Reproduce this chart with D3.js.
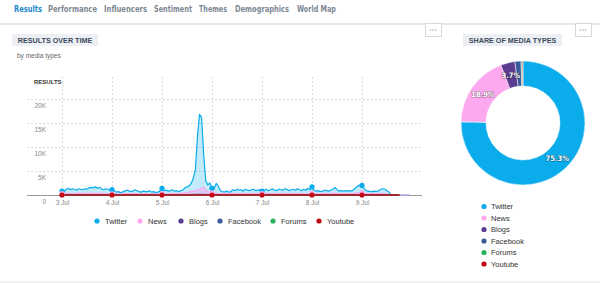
<!DOCTYPE html>
<html>
<head>
<meta charset="utf-8">
<script src="https://cdn.jsdelivr.net/npm/d3@7"></script>
<style>
  body { margin: 0; background: #fff; }
  svg { display: block; font-family: "Liberation Sans", Arial, sans-serif; }
  .tab { font-family: "Liberation Sans Narrow", "DejaVu Sans Condensed", sans-serif; font-weight: bold; font-size: 9px; }
  .grid line { stroke: #dcdcdc; stroke-dasharray: 2,2; }
</style>
</head>
<body>
<div id="chart"></div>
<script>
// tabs along the top
var TABS = ["Results", "Performance", "Influencers", "Sentiment", "Themes", "Demographics", "World Map"];

var SERIES = ["Twitter", "News", "Blogs", "Facebook", "Forums", "Youtube"];
var COLORS = ["#0aacec", "#fda8ef", "#5a3d8e", "#3b5a9a", "#2bb35c", "#c20a12"];

// hourly results, 3 Jul 00:00 .. 9 Jul 23:00
var twitter = [
  800, 700, 1200, 1400, 1100, 1300, 1200, 1000, 1300, 1200, 1100, 1300, 1200, 1500, 1600, 1500, 1700, 1400, 1600, 1300, 1100, 1300, 1200, 1000,
  1100, 900, 600, 700, 500, 600, 800, 1000, 900, 700, 800, 1100, 900, 700, 600, 800, 700, 700, 900, 600, 700, 500, 600, 800,
  1400, 900, 1000, 800, 900, 1100, 800, 900, 700, 900, 1000, 1500, 1700, 1900, 2400, 3500, 5200, 12000, 16800, 16200, 8500, 3000, 2100, 2500,
  1400, 1300, 2400, 1900, 900, 700, 600, 800, 600, 700, 1100, 900, 1200, 1000, 1100, 800, 1200, 1000, 900, 1100, 1200, 900, 1000, 1100,
  800, 1000, 1200, 900, 1100, 1300, 1000, 900, 1200, 1100, 1000, 1300, 1200, 900, 1100, 1200, 1000, 1300, 1100, 900, 1200, 1000, 1400, 1100,
  1700, 1000, 800, 900, 700, 800, 1000, 900, 800, 1000, 1200, 1600, 1100, 800, 900, 800, 900, 800, 900, 800, 1100, 1500, 1900, 2100,
  2000, 1400, 900, 800, 700, 700, 800, 700, 900, 1200, 1300, 1200, 900, 600, 0, 0, 0, 0, 0, 0, 0, 0, 0, 0
];
var news = [
  300, 250, 300, 350, 300, 250, 300, 350, 400, 300, 350, 300, 350, 400, 350, 300, 350, 400, 300, 350, 300, 250, 300, 300,
  250, 200, 200, 250, 200, 250, 300, 250, 300, 250, 300, 250, 300, 250, 200, 250, 300, 250, 200, 250, 300, 250, 200, 250,
  300, 250, 200, 250, 300, 250, 300, 250, 300, 350, 400, 450, 500, 600, 700, 800, 900, 1000, 1200, 1400, 1600, 1000, 700, 500,
  400, 350, 300, 300, 250, 300, 350, 300, 250, 300, 350, 300, 250, 300, 350, 300, 250, 300, 350, 300, 250, 300, 350, 300,
  300, 250, 300, 350, 300, 250, 300, 350, 300, 250, 300, 350, 300, 250, 300, 350, 300, 250, 300, 350, 300, 250, 300, 300,
  350, 300, 250, 300, 250, 300, 350, 300, 250, 300, 350, 400, 350, 300, 250, 300, 250, 300, 350, 300, 350, 400, 450, 400,
  400, 350, 300, 250, 300, 250, 300, 250, 300, 350, 300, 250, 200, 150, 0, 0, 0, 0, 0, 0, 0, 0, 0, 0
];
// smaller series, every 6 hours
var blogs    = [60, 50, 70, 80, 40, 50, 60, 70, 60, 50, 90, 150, 70, 60, 80, 60, 50, 70, 60, 50, 60, 80, 70, 60, 70, 50, 60, 0];
var facebook = [20, 30, 20, 30, 20, 20, 30, 20, 20, 30, 40, 60, 30, 20, 30, 20, 20, 30, 20, 30, 30, 20, 30, 20, 30, 20, 20, 0];
var forums   = [5, 0, 5, 5, 0, 5, 5, 0, 5, 0, 5, 10, 5, 0, 5, 5, 0, 5, 0, 5, 5, 0, 5, 5, 0, 5, 0, 0];
var youtube  = [0, 0, 0, 0, 0, 0, 0, 0, 0, 0, 0, 0, 0, 0, 0, 0, 0, 0, 0, 0, 0, 0, 0, 0, 0, 0, 0, 0];

var Y_TICKS = [0, 5000, 10000, 15000, 20000];
var Y_LABELS = ["0", "5K", "10K", "15K", "20K"];

// share of media types (%)
var SHARE = [75.3, 18.9, 3.7, 1.6, 0.3, 0.2];

var W = 600, H = 283;
var svg = d3.select("#chart").append("svg").attr("width", W).attr("height", H);

// ---- header tabs
var tabX = [14, 48, 104, 154, 199, 235, 297];
var tabW = [28, 49, 43, 38, 28, 54, 39];
svg.selectAll("text.tab").data(TABS).enter().append("text")
  .attr("class", "tab")
  .attr("x", function(d, i) { return tabX[i]; })
  .attr("y", 11.5)
  .attr("textLength", function(d, i) { return tabW[i]; })
  .attr("lengthAdjust", "spacingAndGlyphs")
  .attr("fill", function(d, i) { return i == 0 ? "#1a88cf" : "#7d8893"; })
  .text(function(d) { return d; });

svg.append("rect").attr("x", 0).attr("y", 23).attr("width", W).attr("height", 2).attr("fill", "#e8e8e8");
svg.append("rect").attr("x", 0).attr("y", 281).attr("width", W).attr("height", 2).attr("fill", "#f1f1f1");

// "..." menu boxes
[425, 575].forEach(function(bx) {
  svg.append("rect").attr("x", bx + 0.5).attr("y", 23.5).attr("width", 16).attr("height", 13)
    .attr("fill", "#fff").attr("stroke", "#d8d8d8");
  [0, 1, 2].forEach(function(k) {
    svg.append("circle").attr("cx", bx + 5.5 + k * 2.5).attr("cy", 30).attr("r", 0.8).attr("fill", "#aaa");
  });
});

// panel titles
function panelTitle(x, w, label) {
  svg.append("rect").attr("x", x).attr("y", 34).attr("width", w).attr("height", 12).attr("fill", "#eceff3");
  svg.append("text").attr("x", x + w / 2).attr("y", 43).attr("text-anchor", "middle")
    .attr("font-size", 7.2).attr("font-weight", "bold").attr("fill", "#3d4a5c").text(label);
}
panelTitle(12, 86, "RESULTS OVER TIME");
panelTitle(463, 99, "SHARE OF MEDIA TYPES");

svg.append("text").attr("x", 17).attr("y", 58).attr("font-size", 6.5).attr("fill", "#666").text("by media types");

// ---- time series
var t0 = Date.UTC(2015, 6, 3);
var HOUR = 3600 * 1000;
var x = d3.scaleUtc()
  .domain([new Date(Date.UTC(2015, 6, 2, 7, 12)), new Date(Date.UTC(2015, 6, 10, 4, 48))])
  .range([27, 422]);
var y = d3.scaleLinear().domain([0, 25000]).range([195, 75]);

function toPoints(arr, step) {
  return arr.map(function(v, i) { return { t: new Date(t0 + i * step * HOUR), v: v }; });
}
var seriesData = [toPoints(twitter, 1), toPoints(news, 1), toPoints(blogs, 6),
                  toPoints(facebook, 6), toPoints(forums, 6), toPoints(youtube, 6)];

var days = d3.utcDay.range(new Date(t0), new Date(Date.UTC(2015, 6, 10)));

// vertical grid + x labels
var xAxis = svg.append("g").attr("class", "grid").attr("transform", "translate(0,195)")
  .call(d3.axisBottom(x).tickValues(days).tickSize(-119).tickFormat(d3.utcFormat("%-d %b")));
xAxis.select(".domain").remove();
xAxis.selectAll("text").attr("font-size", 6.5).attr("fill", "#888").attr("dy", "0.35em").attr("y", 8)
  .attr("font-family", "Liberation Sans, Arial, sans-serif");

// horizontal grid
var yAxis = svg.append("g").attr("class", "grid").attr("transform", "translate(27,0)")
  .call(d3.axisLeft(y).tickValues(Y_TICKS).tickSize(-395).tickFormat(function(d, i) { return Y_LABELS[i]; }));
yAxis.select(".domain").remove();
yAxis.selectAll(".tick line").filter(function(d) { return d == 0; }).remove();
yAxis.selectAll("text").attr("font-size", 6.5).attr("fill", "#888").attr("x", 19).attr("dy", "0.35em").attr("y", 6)
  .attr("font-family", "Liberation Sans, Arial, sans-serif");

svg.append("line").attr("x1", 27).attr("x2", 422).attr("y1", 195.5).attr("y2", 195.5)
  .attr("stroke", "#999").attr("stroke-width", 1);

svg.append("text").attr("x", 34).attr("y", 84).attr("font-size", 6).attr("font-weight", "bold")
  .attr("fill", "#333").text("RESULTS");

var area = d3.area().x(function(d) { return x(d.t); }).y0(y(0)).y1(function(d) { return y(d.v); });
var line = d3.line().x(function(d) { return x(d.t); }).y(function(d) { return y(d.v); });

var fills = ["rgba(10,172,236,0.25)", "rgba(253,168,239,0.45)"];
seriesData.forEach(function(data, i) {
  if (i < 2) {
    svg.append("path").datum(data).attr("d", area).attr("fill", fills[i]);
  }
  svg.append("path").datum(data).attr("d", line).attr("fill", "none")
    .attr("stroke", COLORS[i]).attr("stroke-width", i == 5 ? 1.5 : 1.2).attr("stroke-linejoin", "round");
});

// day markers
[0, 1, 5].forEach(function(si) {
  var pts = seriesData[si].filter(function(d) {
    return d.t.getUTCHours() == 0 && d.t < new Date(Date.UTC(2015, 6, 10));
  });
  svg.selectAll(null).data(pts).enter().append("circle")
    .attr("cx", function(d) { return x(d.t); })
    .attr("cy", function(d) { return y(d.v); })
    .attr("r", 2.6).attr("fill", COLORS[si]);
});

// bottom legend
var legX = [97, 140, 181, 220, 273, 319];
var leg = svg.selectAll("g.leg").data(SERIES).enter().append("g")
  .attr("transform", function(d, i) { return "translate(" + legX[i] + ",221)"; });
leg.append("circle").attr("r", 2.6).attr("fill", function(d, i) { return COLORS[i]; });
leg.append("text").attr("x", 8).attr("dy", "0.35em").attr("font-size", 7.5).attr("fill", "#333")
  .text(function(d) { return d; });

// ---- donut
var cx = 523, cy = 123;
var pie = d3.pie().sort(null).value(function(d) { return d; });
var arcs = pie(SHARE);
var arc = d3.arc().innerRadius(37).outerRadius(62);
var labelArc = d3.arc().innerRadius(49).outerRadius(49);
var donut = svg.append("g").attr("transform", "translate(" + cx + "," + cy + ")");
donut.selectAll("path").data(arcs).enter().append("path")
  .attr("d", arc).attr("fill", function(d, i) { return COLORS[i]; })
  .attr("stroke", "#fff").attr("stroke-width", 0.5);
donut.selectAll("text").data(arcs.filter(function(d) { return d.data >= 3; })).enter().append("text")
  .attr("transform", function(d) { return "translate(" + labelArc.centroid(d) + ")"; })
  .attr("text-anchor", "middle").attr("dy", "0.35em")
  .attr("font-family", "Liberation Sans Narrow, DejaVu Sans Condensed, sans-serif")
  .attr("font-size", 7.5).attr("font-weight", "bold").attr("fill", "#fff")
  .attr("stroke", "rgba(0,0,0,0.4)").attr("stroke-width", 1.1).attr("paint-order", "stroke")
  .text(function(d) { return d.data.toFixed(1) + "%"; });

// right legend
var rleg = svg.selectAll("g.rleg").data(SERIES).enter().append("g")
  .attr("transform", function(d, i) { return "translate(484," + (206.5 + i * 11.5) + ")"; });
rleg.append("circle").attr("r", 2.6).attr("fill", function(d, i) { return COLORS[i]; });
rleg.append("text").attr("x", 7).attr("dy", "0.35em").attr("font-size", 7.5).attr("fill", "#333")
  .text(function(d) { return d; });
</script>
</body>
</html>
